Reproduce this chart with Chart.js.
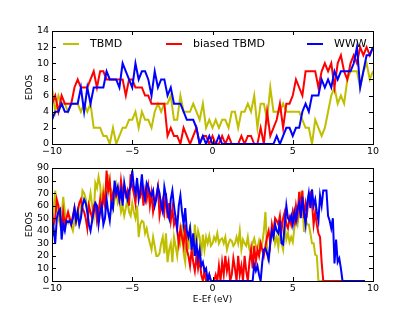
<!DOCTYPE html>
<html><head><meta charset="utf-8">
<script src="https://cdn.jsdelivr.net/npm/chart.js@4.4.0/dist/chart.umd.min.js"></script>
<style>
html,body{margin:0;padding:0;background:#fff;}
#wrap{position:relative;width:415px;height:312px;overflow:hidden;background:#fff;}
canvas{position:absolute;left:0;}
#c1{top:0;} #c2{top:160px;}
</style></head><body>
<div id="wrap"><canvas id="c1" width="415" height="160"></canvas><canvas id="c2" width="415" height="152"></canvas></div>
<script>
// ---- data ----
const seriesNames = ['TBMD', 'biased TBMD', 'WWW'];
const seriesColors = ['#bfbf00', '#ff0000', '#0000ff'];

// top panel: energies -10..10 every 0.2 eV
const topStart = -10, topStep = 0.2;
const topTBMD = [7,4,6,5,5,4,5,5,5,4, 5,4,5,2,2,2,1,1,0,2, 0,1,2,2,3,3,4,2,4,3, 3,2,4,5,4,5,5,6,3,3, 6,4,4,4,5,4,3,5,2,3, 2,3,2,3,3,2,4,4,2,4, 4,5,4,6,2,5,5,3,7,4, 4,4,5,4,4,4,4,4,3,2, 2,0,3,2,1,2,4,6,7,5, 6,5,8,9,9,9,7,9,10,8, 9];
const topBiased = [5,6,4,6,5,5,5,7,8,7, 7,7,8,9,7,9,9,8,8,8, 8,8,8,6,8,8,7,7,7,6, 6,5,5,5,5,5,1,2,1,1, 0,2,1,0,1,2,0,1,1,0, 1,0,0,1,0,1,0,0,0,1, 0,1,1,0,0,2,0,4,1,2, 3,5,2,5,5,6,8,7,6,9, 9,9,9,7,9,10,9,10,7,10, 11,9,8,10,11,10,12,11,12,11, 12];
const topWWW = [3,4,4,5,4,4,5,5,5,7, 4,7,5,7,7,7,7,9,8,8, 8,7,10,9,8,7,10,8,9,9, 8,6,9,7,8,8,6,7,5,5, 5,4,3,3,3,2,0,1,0,1, 0,0,1,0,0,0,0,0,0,0, 0,0,0,0,0,0,0,0,0,0, 1,0,1,2,2,1,2,2,4,5, 4,6,6,6,8,7,8,7,9,8, 9,9,9,9,10,12,7,9,11,11, 12];

// bottom panel: energies -10..9.5 every 0.1 eV
const botStart = -10, botStep = 0.1;
const botTBMD = [48,56,72,60,50,45,52,67,55,48, 46,50,44,40,48,55,50,45,58,72, 70,66,55,62,70,60,52,78,74,83, 76,60,73,65,70,85,72,73,58,65, 75,62,65,55,60,52,58,65,55,52, 62,55,50,60,35,45,48,47,38,42, 35,30,25,35,28,20,20,22,30,35, 22,38,15,25,30,15,35,28,20,35, 30,45,22,15,40,25,45,30,20,45, 28,40,35,20,37,25,35,30,36,28, 30,35,32,38,30,33,34,30,35,25, 30,33,32,28,30,35,30,40,25,33, 30,28,35,25,22,30,34,28,26,32, 25,30,40,55,26,15,31,35,42,30, 35,27,40,30,25,45,33,38,31,35, 31,42,50,45,55,68,63,39,50,45, 45,38,30,30,21,20,0,0,0,0, 0,0,0,0,0,0,0,0,0,0, 0,0,0,0,0,0,0,0,0,0, 0,0,0,0,0,0];
const botBiased = [55,45,50,65,60,52,42,55,45,50, 55,50,45,52,58,48,55,62,65,58, 55,50,42,60,55,50,60,62,48,55, 65,55,68,60,88,72,80,62,70,75, 68,72,65,80,70,75,68,72,60,85, 75,70,62,78,72,68,75,60,72,65, 75,60,70,55,62,68,75,52,60,65, 55,70,50,62,48,58,45,50,40,30, 42,35,28,45,25,20,12,25,15,8, 20,10,18,5,0,8,0,0,5,0, 0,0,5,0,12,0,15,5,20,8, 15,0,5,18,10,0,20,5,12,0, 20,8,0,15,25,10,28,15,25,20, 30,25,20,28,35,40,30,45,38,50, 48,45,52,40,50,55,45,42,50,45, 55,48,60,52,71,58,72,50,62,55, 68,70,62,45,55,45,38,35,15,0, 0,0,0,0,0,0,0,0,0,0, 0,0,0,0,0,0,0,0,0,0, 0,0,0,0,0,0];
const botWWW = [35,42,30,50,55,57,33,45,40,48, 47,48,45,50,58,48,55,45,50,60, 65,62,55,45,40,48,55,62,60,45, 55,60,45,50,65,55,48,62,58,80, 70,75,65,72,60,78,70,65,72,75, 88,75,70,82,65,72,85,70,65,78, 75,70,68,72,60,65,75,70,60,55, 75,68,55,50,65,72,60,50,42,60, 68,55,45,58,40,35,42,25,38,20, 30,18,25,12,15,8,10,0,5,0, 0,0,0,0,0,0,0,0,0,0, 0,0,0,0,0,0,0,0,0,0, 0,0,0,0,0,0,13,8,12,5, 0,15,25,26,22,17,31,40,35,45, 40,38,48,30,29,45,60,50,48,52, 45,55,48,58,62,50,67,55,45,62, 70,58,73,60,65,55,48,68,60,72, 72,72,52,48,42,50,14,33,15,18, 10,0,0,0,0,0,0,0,0,0, 0,0,0,0,0,0];

const xTicks = [-10, -5, 0, 5, 10];
const yTicksTop = [0, 2, 4, 6, 8, 10, 12, 14];
const yTicksBot = [0, 10, 20, 30, 40, 50, 60, 70, 80, 90];

// ---- helpers ----
function pts(arr, start, step) { return arr.map((v, i) => ({x: +(start + i * step).toFixed(2), y: v})); }
function fmt(v) { return v < 0 ? '\u2212' + Math.abs(v) : String(v); }
const FONT = 'DejaVu Sans';

const framePlugin = {
  id: 'frame',
  afterDatasetsDraw(chart) {
    const {ctx, chartArea: a, scales} = chart;
    ctx.save();
    ctx.strokeStyle = '#000'; ctx.lineWidth = 1;
    const L = 4;
    ctx.beginPath();
    scales.x.ticks.forEach(t => {
      const px = Math.round(scales.x.getPixelForValue(t.value)) + 0.5;
      ctx.moveTo(px, a.bottom); ctx.lineTo(px, a.bottom - L);
      ctx.moveTo(px, a.top); ctx.lineTo(px, a.top + L);
    });
    scales.y.ticks.forEach(t => {
      const py = Math.round(scales.y.getPixelForValue(t.value)) + 0.5;
      ctx.moveTo(a.left, py); ctx.lineTo(a.left + L, py);
      ctx.moveTo(a.right, py); ctx.lineTo(a.right - L, py);
    });
    ctx.stroke();
    ctx.strokeRect(Math.round(a.left) + 0.5, Math.round(a.top) + 0.5, Math.round(a.right - a.left), Math.round(a.bottom - a.top));
    ctx.restore();
  }
};

const legendPlugin = {
  id: 'mplLegend',
  afterDatasetsDraw(chart, args, opts) {
    if (!opts || !opts.show) return;
    const {ctx, chartArea: a} = chart;
    ctx.save();
    ctx.font = '11px "' + FONT + '"';
    ctx.textBaseline = 'middle';
    chart.data.datasets.forEach((ds, i) => {
      const x0 = a.left + opts.offsets[i];
      const y = a.top + opts.rowY;
      ctx.strokeStyle = ds.borderColor; ctx.lineWidth = 2;
      ctx.beginPath(); ctx.moveTo(x0, y); ctx.lineTo(x0 + 16, y); ctx.stroke();
      ctx.fillStyle = '#000'; ctx.fillText(ds.label, x0 + 27, y);
    });
    ctx.restore();
  }
};

function makeDatasets(a, b, c, start, step) {
  return [a, b, c].map((arr, i) => ({
    label: seriesNames[i], data: pts(arr, start, step), borderColor: seriesColors[i],
    backgroundColor: seriesColors[i], borderWidth: 2, pointRadius: 0, tension: 0, fill: false,
    order: 2 - i, borderJoinStyle: 'miter'
  }));
}

function makeOptions(cfg) {
  return {
    responsive: false, animation: false, devicePixelRatio: 1, events: [],
    layout: {padding: {left: 0, right: 42, top: cfg.padTop, bottom: 0}},
    plugins: {legend: {display: false}, tooltip: {enabled: false}, mplLegend: cfg.legend},
    scales: {
      x: {
        type: 'linear', min: -10, max: 10,
        afterBuildTicks: s => { s.ticks = xTicks.map(v => ({value: v})); },
        ticks: {color: '#000', padding: 2, maxRotation: 0, autoSkip: false, font: {family: FONT, size: 9.5}, callback: v => fmt(v)},
        grid: {display: false, drawTicks: false}, border: {display: false},
        title: cfg.xTitle ? {display: true, text: cfg.xTitle, color: '#000', font: {family: FONT, size: 9, lineHeight: 1}, padding: {top: 0, bottom: 7.5}} : {display: false},
        afterFit: s => { s.height = cfg.xHeight; s.paddingLeft = 0; s.paddingRight = 0; }
      },
      y: {
        min: 0, max: cfg.yTicks[cfg.yTicks.length - 1],
        afterBuildTicks: s => { s.ticks = cfg.yTicks.map(v => ({value: v})); },
        ticks: {color: '#000', padding: 3, autoSkip: false, font: {family: FONT, size: 9.5}},
        grid: {display: false, drawTicks: false}, border: {display: false},
        title: {display: true, text: 'EDOS', color: '#000', font: {family: FONT, size: 9, lineHeight: 1}, padding: {top: 25.5, bottom: 0}},
        afterFit: s => { s.width = 52; s.paddingTop = 0; s.paddingBottom = 0; }
      }
    }
  };
}

new Chart(document.getElementById('c1'), {
  type: 'line',
  data: {datasets: makeDatasets(topTBMD, topBiased, topWWW, topStart, topStep)},
  options: makeOptions({padTop: 31, xHeight: 16, yTicks: yTicksTop,
    legend: {show: true, rowY: 13, offsets: [11, 114, 255]}}),
  plugins: [framePlugin, legendPlugin]
});

new Chart(document.getElementById('c2'), {
  type: 'line',
  data: {datasets: makeDatasets(botTBMD, botBiased, botWWW, botStart, botStep)},
  options: makeOptions({padTop: 8, xHeight: 31, yTicks: yTicksBot, xTitle: 'E-Ef (eV)',
    legend: {show: false}}),
  plugins: [framePlugin, legendPlugin]
});
</script>
</body></html>
